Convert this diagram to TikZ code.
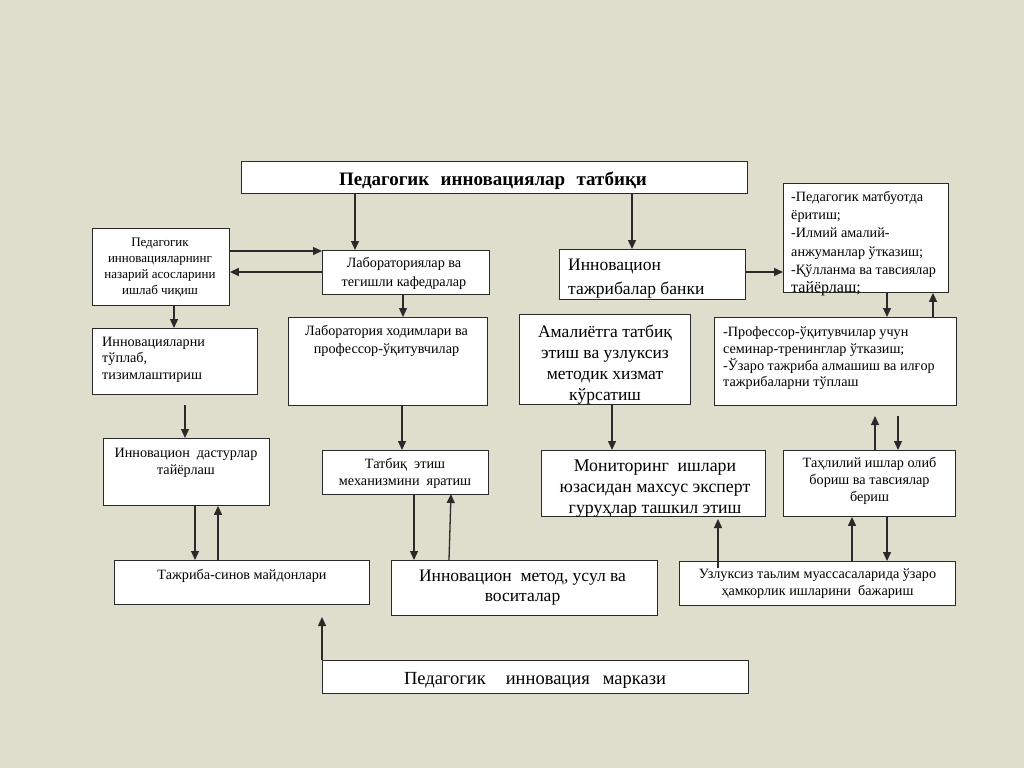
\documentclass[tikz,border=0pt]{standalone}
\usepackage{fontspec}
\setmainfont{Liberation Serif}
\usetikzlibrary{arrows.meta}
\definecolor{bg}{HTML}{DFDDCB}
\definecolor{edge}{HTML}{2A2A2A}
\tikzset{
  box/.style={draw=edge, fill=white, line width=0.9pt, inner sep=0pt, anchor=north west},
  arr/.style={draw=edge, line width=1.3pt, -{Triangle[length=9pt,width=8pt]}},
  txt/.style={inner sep=0pt, align=center, font=\fontsize{14.2}{17}\selectfont},
  txtl/.style={inner sep=0pt, align=left, font=\fontsize{14.2}{16.7}\selectfont},
}
\begin{document}
\begin{tikzpicture}[x=1pt,y=-1pt]
\fill[bg] (0,0) rectangle (1024,768);
\useasboundingbox (0,0) rectangle (1024,768);

% boxes
\node[box, minimum width=506pt, minimum height=32pt] (title) at (241,161) {};
\node[box, minimum width=137pt, minimum height=77pt] (b2) at (92,228) {};
\node[box, minimum width=167pt, minimum height=44pt] (b3) at (322,250) {};
\node[box, minimum width=199pt, minimum height=88pt] (b4) at (288,317) {};
\node[box, minimum width=165pt, minimum height=66pt] (b5) at (92,328) {};
\node[box, minimum width=166pt, minimum height=67pt] (b6) at (103,438) {};
\node[box, minimum width=166pt, minimum height=44pt] (b7) at (322,450) {};
\node[box, minimum width=255pt, minimum height=44pt] (b8) at (114,560) {};
\node[box, minimum width=266pt, minimum height=55pt] (b9) at (391,560) {};
\node[box, minimum width=426pt, minimum height=33pt] (b10) at (322,660) {};
\node[box, minimum width=186pt, minimum height=50pt] (b11) at (559,249) {};
\node[box, minimum width=165pt, minimum height=109pt] (b12) at (783,183) {};
\node[box, minimum width=171pt, minimum height=90pt] (b13) at (519,314) {};
\node[box, minimum width=242pt, minimum height=88pt] (b14) at (714,317) {};
\node[box, minimum width=224pt, minimum height=66pt] (b15) at (541,450) {};
\node[box, minimum width=172pt, minimum height=66pt] (b16) at (783,450) {};
\node[box, minimum width=276pt, minimum height=44pt] (b17) at (679,561) {};

% texts
\node[inner sep=0pt, anchor=base, font=\fontsize{19}{22}\selectfont\bfseries] (t1) at (493,185) {Педагогик\hspace{0.6em}инновациялар\hspace{0.6em}татбиқи};
\node[txt, font=\fontsize{13}{15.8}\selectfont] (t2) at (160,267.5) {Педагогик\\инновацияларнинг\\назарий асосларини\\ишлаб чиқиш};
\node[txt, font=\fontsize{14.2}{19}\selectfont] (t3) at (404,273.5) {Лабораториялар ва\\тегишли кафедралар};
\node[txt, font=\fontsize{14.2}{18}\selectfont] (t4) at (386.5,340.5) {Лаборатория ходимлари ва\\профессор-ўқитувчилар};
\node[txtl, anchor=west] (t5) at (102,359.7) {Инновацияларни\\тўплаб,\\тизимлаштириш};
\node[txt] (t6) at (186,462.5) {Инновацион\hspace{0.5em}дастурлар\\тайёрлаш};
\node[txt] (t7) at (405,473) {Татбиқ\hspace{0.5em}этиш\\механизмини\hspace{0.5em}яратиш};
\node[txt, anchor=base] (t8) at (242,579) {Тажриба-синов майдонлари};
\node[txt, font=\fontsize{17.5}{20.5}\selectfont] (t9) at (522.5,587.5) {Инновацион\hspace{0.5em}метод, усул ва\\воситалар};
\node[inner sep=0pt, anchor=base, font=\fontsize{18.5}{20}\selectfont] (t10) at (535,684) {Педагогик\hspace{20pt}инновация\hspace{13pt}маркази};
\node[txtl, anchor=west, font=\fontsize{17.5}{23.5}\selectfont] (t11) at (568,278.5) {Инновацион\\тажрибалар банки};
\node[txtl, anchor=west, font=\fontsize{14.2}{18.3}\selectfont] (t12) at (791,243.5) {-Педагогик матбуотда\\ёритиш;\\-Илмий амалий-\\анжуманлар ўтказиш;\\-Қўлланма ва тавсиялар\\{\fontsize{16}{18.3}\selectfont тайёрлаш;}};
\node[txt, font=\fontsize{17.5}{21.1}\selectfont] (t13) at (605,364.3) {Амалиётга татбиқ\\этиш ва узлуксиз\\методик хизмат\\кўрсатиш};
\node[txtl, anchor=west] (t14) at (723,358.5) {-Профессор-ўқитувчилар учун\\семинар-тренинглар ўтказиш;\\-Ўзаро тажриба алмашиш ва илғор\\тажрибаларни тўплаш};
\node[txt, font=\fontsize{17.8}{20.8}\selectfont] (t15) at (655,488.8) {Мониторинг\hspace{0.5em}ишлари\\юзасидан махсус эксперт\\гуруҳлар ташкил этиш};
\node[txt] (t16) at (869.5,481) {Таҳлилий ишлар олиб\\бориш ва тавсиялар\\бериш};
\node[txt] (t17) at (817.5,583.2) {Узлуксиз таьлим муассасаларида ўзаро\\ҳамкорлик ишларини\hspace{0.5em}бажариш};

% free arrow ends
\coordinate (c14a) at (875,416);
\coordinate (c14b) at (898,416);
\coordinate (c15a) at (718,519);
\coordinate (c8a) at (322,617);

% connectors
\draw[arr] (355,193) coordinate (ta) -- (ta |- b3.north);
\draw[arr] (632,193) coordinate (tb) -- (tb |- b11.north);
\draw[arr] (229,251) coordinate (ca) -- (ca -| b3.west);
\draw[arr] (322,272) coordinate (cb) -- (cb -| b2.east);
\draw[arr] (174,305) coordinate (cc) -- (cc |- b5.north);
\draw[arr] (403,294) coordinate (cd) -- (cd |- b4.north);
\draw[arr] (185,405) coordinate (ce) -- (ce |- b6.north);
\draw[arr] (402,405) coordinate (cf) -- (cf |- b7.north);
\draw[arr] (195,505) coordinate (cg) -- (cg |- b8.north);
\draw[arr] (218,560) coordinate (ch) -- (ch |- b6.south);
\draw[arr] (414,494) coordinate (ci) -- (ci |- b9.north);
\draw[arr] (449,560) -- (451,494);
\draw[arr] (b10.north west) -- (c8a);
\draw[arr] (745,272) coordinate (cj) -- (cj -| b12.west);
\draw[arr] (887,292) coordinate (ck) -- (ck |- b14.north);
\draw[arr] (933,317) coordinate (cl) -- (cl |- b12.south);
\draw[arr] (612,404) coordinate (cm) -- (cm |- b15.north);
\draw[arr] (875,450) -- (c14a);
\draw[arr] (c14b) -- (898,450);
\draw[arr] (718,568) -- (c15a);
\draw[arr] (852,561) coordinate (cn) -- (cn |- b16.south);
\draw[arr] (887,516) coordinate (co) -- (co |- b17.north);
\end{tikzpicture}
\end{document}
